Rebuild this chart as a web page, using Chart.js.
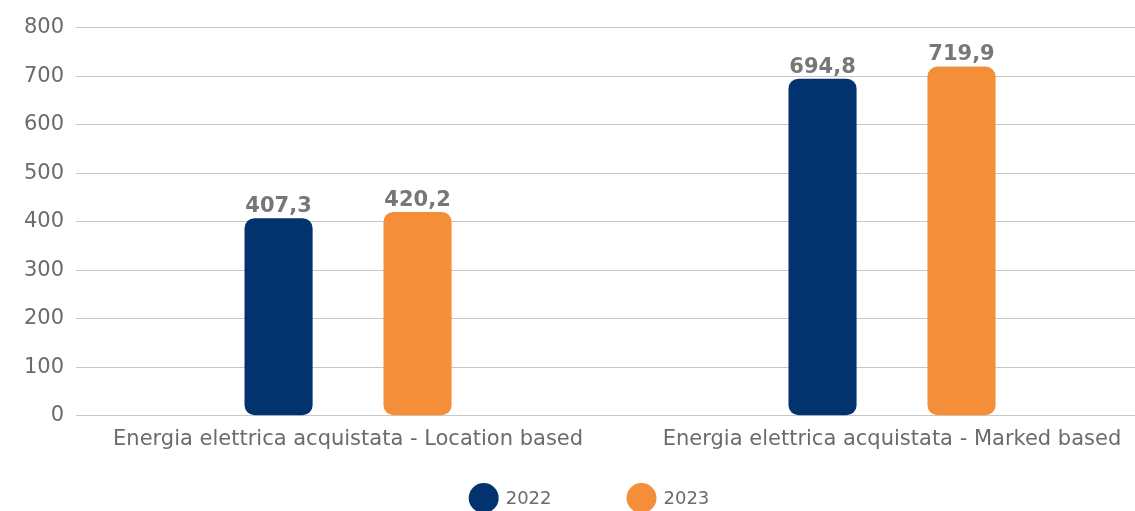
<!DOCTYPE html>
<html>
<head>
<meta charset="utf-8">
<script src="https://cdn.jsdelivr.net/npm/chart.js@4/dist/chart.umd.min.js"></script>
<style>
  html, body { margin: 0; padding: 0; background: #fff; overflow: hidden; }
  #wrap { width: 1166px; height: 508px; margin-top: 3px; position: relative; }
</style>
</head>
<body>
<div id="wrap"><canvas id="c"></canvas></div>
<script>
const categories = ["Energia elettrica acquistata - Location based", "Energia elettrica acquistata - Marked based"];
const seriesNames = ["2022", "2023"];
const values2022 = [407.3, 694.8];
const values2023 = [420.2, 719.9];
const seriesColors = ["#03336f", "#f58e39"];

const FONT = "'DejaVu Sans', sans-serif";

const valueLabels = {
  id: 'valueLabels',
  afterDatasetsDraw(chart) {
    const ctx = chart.ctx;
    ctx.save();
    ctx.font = "bold 21px " + FONT;
    ctx.fillStyle = "#777777";
    ctx.textAlign = "center";
    ctx.textBaseline = "bottom";
    chart.data.datasets.forEach((ds, i) => {
      const meta = chart.getDatasetMeta(i);
      meta.data.forEach((bar, j) => {
        const txt = ds.data[j].toFixed(1).replace('.', ',');
        ctx.fillText(txt, bar.x, bar.y - 1);
      });
    });
    ctx.restore();
  }
};

const customLegend = {
  id: 'customLegend',
  afterDraw(chart) {
    const ctx = chart.ctx;
    ctx.save();
    ctx.font = "18px " + FONT;
    ctx.textBaseline = "middle";
    ctx.textAlign = "left";
    const r = 15, gapText = 7, gapItem = 75;
    const items = chart.data.datasets.map(ds => ({ label: ds.label, color: ds.backgroundColor, w: 2 * r + gapText + ctx.measureText(ds.label).width }));
    const total = items.reduce((a, it) => a + it.w, 0) + gapItem * (items.length - 1);
    let x = 589 - total / 2;
    const y = chart.height - 13;
    items.forEach(it => {
      ctx.fillStyle = it.color;
      ctx.beginPath();
      ctx.arc(x + r, y, r, 0, Math.PI * 2);
      ctx.fill();
      ctx.fillStyle = "#6b6b6b";
      ctx.fillText(it.label, x + 2 * r + gapText, y + 1);
      x += it.w + gapItem;
    });
    ctx.restore();
  }
};

new Chart(document.getElementById('c'), {
  type: 'bar',
  data: {
    labels: categories,
    datasets: [
      { label: seriesNames[0], data: values2022, backgroundColor: seriesColors[0] },
      { label: seriesNames[1], data: values2023, backgroundColor: seriesColors[1] }
    ]
  },
  options: {
    responsive: true,
    maintainAspectRatio: false,
    animation: false,
    layout: { padding: { top: 22, left: 12, right: 2, bottom: 48 } },
    datasets: {
      bar: {
        categoryPercentage: 0.511,
        barPercentage: 0.49,
        borderRadius: 10,
        borderSkipped: false
      }
    },
    plugins: {
      legend: { display: false },
      tooltip: { enabled: false }
    },
    scales: {
      x: {
        grid: { display: false, drawTicks: false },
        border: { color: "#c8c8c8", width: 1 },
        ticks: { color: "#6b6b6b", font: { family: FONT, size: 21 }, padding: 11, maxRotation: 0, autoSkip: false }
      },
      y: {
        min: 0, max: 800,
        grid: { color: "#c8c8c8", drawTicks: false },
        border: { display: false },
        ticks: { stepSize: 100, color: "#6b6b6b", font: { family: FONT, size: 21 }, padding: 12 }
      }
    }
  },
  plugins: [valueLabels, customLegend]
});
</script>
</body>
</html>
